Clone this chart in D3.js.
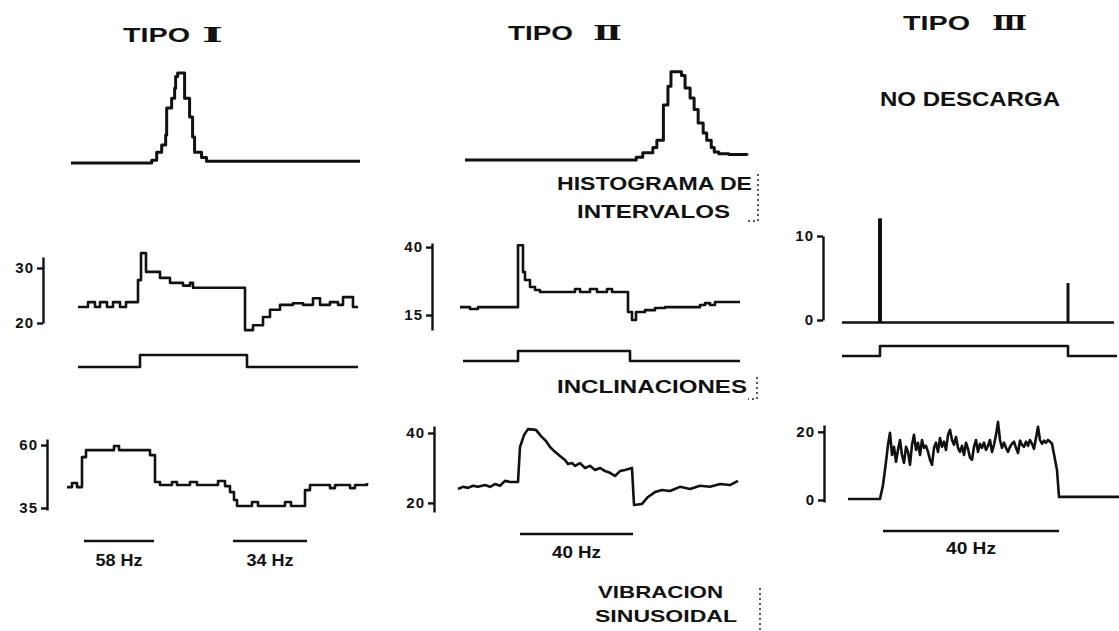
<!DOCTYPE html>
<html>
<head>
<meta charset="utf-8">
<title>Tipos de respuesta</title>
<script src="https://cdn.jsdelivr.net/npm/d3@7"></script>
<style>
  body { margin: 0; background: #fff; }
  text { font-family: "Liberation Sans", Arial, sans-serif; fill: #111; font-weight: bold; }
  .numeral { font-family: "DejaVu Serif", serif; }
  .trace { fill: none; stroke: #111; stroke-width: 2.6; stroke-linejoin: round; }
  .axis path, .axis line { stroke: #111; stroke-width: 2.4; }
  .axis text { font-size: 15px; font-weight: bold; letter-spacing: 1px; }
  .bracket { fill: none; stroke: #222; stroke-width: 1.5; stroke-dasharray: 2 3; }
</style>
</head>
<body>
<script>
// histogramas de intervalos: [intervalo, cuentas]
const histI  = [[0,0],[16.2,3],[17.2,12],[18.2,20],[19,31],[19.2,61],[20.2,72],[20.8,83],[21,96],[21.4,100],
                [22.8,72],[23.8,51],[24.4,29],[24.8,12],[26.2,6],[27.2,2],[58,2]];
const histII = [[0,0],[34,3],[35.3,8],[37.3,14],[38.1,22],[39.4,61],[40.3,82],[40.9,98],[43,94],[43.7,80],
                [44.7,69],[45.5,56],[46.3,41],[47.3,30],[48,22],[48.9,14],[49.5,9],[50.4,7],[52.4,6],[56,5]];

// frecuencia de descarga durante las inclinaciones: [s, imp/s]
const rateIA = [[0,22.9],[2,23.8],[3.4,22.9],[4.4,23.8],[5.8,22.9],[7,23.8],[8.4,22.9],[9.6,23.8],[12,27.8],
                [12.6,32.7],[13.6,29.3],[16.4,28.2],[18.4,27.3],[21,26.8],[22.4,27.3],[23,26.4],[33.4,18.7],
                [35,19.6],[37,21.1],[38.4,22.4],[40.4,23.3],[43,23.6],[45,23.3],[47,24.5],[48.4,23.3],
                [50.4,23.8],[52,23.3],[53,24.7],[55,22.9],[56,22.9]];
const rateIIA = [[0,17.9],[2,17.2],[3.6,17.9],[11.6,40.7],[12.6,30.8],[13,27.9],[14,25.3],[15,24.2],[16,23.5],
                 [23,24.6],[24,23.5],[26,24.6],[27.4,23.5],[29.4,24.6],[30.4,23.5],[33.6,16.1],[34.4,13.2],
                 [35.2,16.1],[37,16.8],[39,17.6],[41,17.9],[48,18.7],[49,19.4],[50,18.7],[51,19.8],[56,19.8]];
const baseIIIA = [[0,-0.3],[54.4,-0.3]];
const spikesIIIA = [[7.6,12.1],[45.2,4.4]];

// posicion de la mesa (0 = horizontal, 1 = inclinada)
const tiltI   = [[0,0],[12.4,1],[33.8,0],[56,0]];
const tiltII  = [[0.6,0],[11.6,1],[34,0],[56,0]];
const tiltIII = [[0,0],[7.6,1],[45.2,0],[55,0]];

// frecuencia de descarga durante la vibracion sinusoidal
const rateIC = [[0,43.3],[1,44.9],[2,43.3],[3,55.2],[3.8,58],[9.4,59.6],[10.4,58],[16.6,56],[17.6,45.3],
                [18.6,44.1],[21,45.3],[22,44.1],[24.6,45.3],[26,44.1],[30.2,45.7],[31.6,43.7],[32.6,41.3],
                [33.4,38.2],[34,35.8],[37,37.4],[38.2,35.8],[43.6,37.4],[44.8,35.8],[47.6,42.1],[48.6,44.1],
                [52.6,42.9],[53.6,44.1],[56.6,42.9],[57.6,44.1],[60,44.9]];
const rateIIC = [[0,24],[1,24.6],[2,24.3],[3,24.9],[4,24.6],[5.4,25.1],[6.4,24.6],[7.4,25.4],[8.4,24.9],
                 [9.4,26.3],[10.4,26],[12,26],[12.4,36],[13.2,39.4],[14,41.1],[15.6,40.9],[16.6,39.1],
                 [17.6,37.7],[18.4,36],[19.4,34.6],[20.4,33.4],[21.4,32.3],[22,31.1],[22.8,31.4],[23.4,30.6],
                 [24.4,31.4],[25.4,30],[26.4,30.6],[27.4,29.4],[28.4,30],[29.4,29.1],[30.4,28.6],[31.4,27.7],
                 [32.4,29.1],[33.4,29.4],[34.8,30],[35.2,19.4],[36.8,19.7],[38,21.7],[39.4,23.1],[40.8,23.7],
                 [42.4,23.4],[44.4,24.6],[46.4,24],[48.4,24.9],[50.4,24.6],[52.4,25.4],[54.4,25.1],[56,26.3]];
const rateIIICbefore = [[0,0.3],[6.4,0.3],[7,4.4]];
const rateIIICstart = 7.6, rateIIICstep = 0.4;
const rateIIICvib = [11.2,16.2,19.7,13.2,15.6,11.2,14.7,17.6,13.2,10.9,15.6,14.1,10.3,16.2,19.1,14.7,16.8,
                     13.2,17.6,15.3,15.9,14.1,11.8,10.3,15.3,16.8,14.1,18.2,15.6,17.1,14.7,19.1,20.6,17.6,
                     16.2,18.5,15.3,14.1,15.9,13.2,16.8,15,12.4,11.8,15.6,17.6,14.1,16.5,15.3,16.8,14.7,
                     15.9,17.6,14.1,16.2,19.1,22.9,17.6,15.3,16.8,15.3,14.1,15.6,16.5,17.1,15.3,13.8,17.4,
                     16.2,15.6,17.1,15.9,17.6,16.5,15,18.2,21.5,17.6,16.5,17.4,16.8,17.6,17.1,16.5];
const rateIIICafter = [[41.8,8.8],[42.2,0.9],[54.2,0.9]];

// estimulos
const stimI   = [{label: "58 Hz", t0: 3.4, t1: 17.4}, {label: "34 Hz", t0: 33.2, t1: 48}];
const stimII  = [{label: "40 Hz", t0: 12.4, t1: 35}];
const stimIII = [{label: "40 Hz", t0: 7, t1: 42.2}];

const ticksIA = [20, 30], ticksIIA = [15, 40], ticksIIIA = [0, 10];
const ticksIC = [35, 60], ticksIIC = [20, 40], ticksIIIC = [0, 20];

const svg = d3.select('body').append('svg')
    .attr('width', 1119)
    .attr('height', 631);

// scales per panel
const xHI  = d3.scaleLinear([0, 58], [71, 360]),  yHI  = d3.scaleLinear([0, 100], [163, 73]);
const xHII = d3.scaleLinear([0, 56], [465, 747]), yHII = d3.scaleLinear([0, 100], [160, 70]);

const xAI  = d3.scaleLinear([0, 56], [78, 358]),  yAI  = d3.scaleLinear([20, 32], [323, 257]);
const xAII = d3.scaleLinear([0, 56], [460, 740]), yAII = d3.scaleLinear([9.5, 41.5], [330, 243]);
const xAIII = d3.scaleLinear([0, 54.4], [842, 1114]), yAIII = d3.scaleLinear([0, 10], [320, 236]);

const yBI = d3.scaleLinear([0, 1], [367, 355]);
const yBII = d3.scaleLinear([0, 1], [361, 351]);
const yBIII = d3.scaleLinear([0, 1], [356, 346]);

const xCI  = d3.scaleLinear([0, 60], [67, 367]),  yCI  = d3.scaleLinear([34.2, 62.4], [510, 439]);
const xCII = d3.scaleLinear([0, 56], [458, 738]), yCII = d3.scaleLinear([17.4, 42], [512, 426]);
const xCIII = d3.scaleLinear([0, 54.2], [848, 1119]), yCIII = d3.scaleLinear([-0.6, 22], [502, 425]);

function trace(data, x, y, curve, width) {
    svg.append('path')
        .datum(data)
        .attr('class', 'trace')
        .style('stroke-width', width || null)
        .attr('d', d3.line().x(d => x(d[0])).y(d => y(d[1])).curve(curve));
}

function axis(y, xPos, ticks) {
    svg.append('g')
        .attr('class', 'axis')
        .attr('transform', `translate(${xPos},0)`)
        .call(d3.axisLeft(y).tickValues(ticks).tickSize(6).tickSizeOuter(0).tickPadding(3));
}

function label(txt, x, y, w, size, cls) {
    return svg.append('text')
        .attr('class', cls || null)
        .attr('x', x).attr('y', y)
        .attr('textLength', w)
        .attr('lengthAdjust', 'spacingAndGlyphs')
        .style('font-size', size + 'px')
        .text(txt);
}

function stim(list, x, yBar, yText, w) {
    list.forEach(s => {
        svg.append('line')
            .attr('x1', x(s.t0)).attr('x2', x(s.t1))
            .attr('y1', yBar).attr('y2', yBar)
            .style('stroke', '#111').style('stroke-width', 2.6);
        const cx = (x(s.t0) + x(s.t1)) / 2;
        label(s.label, cx - w / 2, yText, w, 16);
    });
}

// titles
label('TIPO', 123, 42, 67, 21);
label('Ⅰ', 202, 42, 21, 21, 'numeral');
label('TIPO', 508, 40, 65, 21);
label('Ⅱ', 593, 40, 29, 21, 'numeral');
label('TIPO', 903, 30, 67, 21);
label('Ⅲ', 992, 30, 35, 21, 'numeral');
label('NO DESCARGA', 880, 106, 180, 21);
label('HISTOGRAMA DE', 557, 190, 195, 18);
label('INTERVALOS', 577, 218, 153, 18);
label('INCLINACIONES', 557, 393, 190, 18);
label('VIBRACION', 598, 598, 125, 17);
label('SINUSOIDAL', 595, 622, 142, 17);

// histograms
trace(histI, xHI, yHI, d3.curveStepAfter, 3);
trace(histII, xHII, yHII, d3.curveStepAfter, 3);

// tilt responses
axis(yAI, 43, ticksIA);
trace(rateIA, xAI, yAI, d3.curveStepAfter);
trace(tiltI, xAI, yBI, d3.curveStepAfter);

axis(yAII, 432, ticksIIA);
trace(rateIIA, xAII, yAII, d3.curveStepAfter);
trace(tiltII, xAII, yBII, d3.curveStepAfter);

axis(yAIII, 823, ticksIIIA);
trace(baseIIIA, xAIII, yAIII, d3.curveLinear);
spikesIIIA.forEach((s, i) => {
    svg.append('line')
        .attr('x1', xAIII(s[0])).attr('x2', xAIII(s[0]))
        .attr('y1', yAIII(-0.3)).attr('y2', yAIII(s[1]))
        .style('stroke', '#111').style('stroke-width', i === 0 ? 4 : 3);
});
trace(tiltIII, xAIII, yBIII, d3.curveStepAfter);

// vibration responses
axis(yCI, 47, ticksIC);
trace(rateIC, xCI, yCI, d3.curveStepAfter);
stim(stimI, xCI, 541, 566, 47);

axis(yCII, 434, ticksIIC);
trace(rateIIC, xCII, yCII, d3.curveLinear);
stim(stimII, xCII, 534, 558, 49);

axis(yCIII, 824, ticksIIIC);
const rateIIIC = rateIIICbefore
    .concat(rateIIICvib.map((v, i) => [rateIIICstart + i * rateIIICstep, v]))
    .concat(rateIIICafter);
trace(rateIIIC, xCIII, yCIII, d3.curveLinear);
stim(stimIII, xCIII, 531, 554, 50);

// dotted brackets next to the captions
svg.append('path').attr('class', 'bracket').attr('d', 'M758,174 V221 H748');
svg.append('path').attr('class', 'bracket').attr('d', 'M757,377 V399 H748');
svg.append('path').attr('class', 'bracket').attr('d', 'M760,588 V631');
</script>
</body>
</html>
